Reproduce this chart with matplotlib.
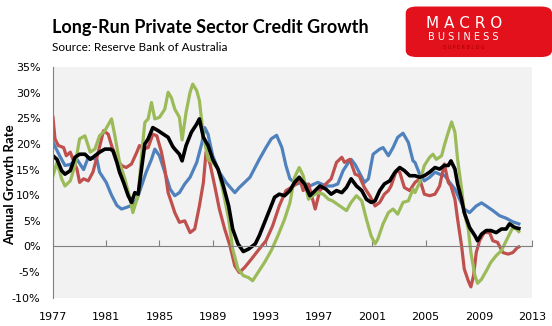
import matplotlib.pyplot as plt
from matplotlib.patches import FancyBboxPatch
from matplotlib.ticker import FuncFormatter, MultipleLocator

# --- data (year, % annual growth) ---
blue_x = [1977.0, 1977.5, 1977.9, 1978.3, 1978.8, 1979.3, 1979.65, 1980.3, 1980.5, 1981.0,
          1981.4, 1981.8, 1982.15, 1982.5, 1982.9, 1983.3, 1983.65, 1984.0, 1984.4, 1984.65,
          1985.0, 1985.4, 1985.8, 1986.15, 1986.5, 1986.9, 1987.3, 1987.8, 1988.2, 1988.4,
          1988.65, 1989.0, 1989.5, 1990.0, 1990.66, 1991.0, 1991.8, 1992.5, 1993.0, 1993.4,
          1993.8, 1994.2, 1994.5, 1994.8, 1995.3, 1995.8, 1996.3, 1996.9, 1997.5, 1998.0,
          1998.4, 1998.8, 1999.2, 1999.4, 1999.7, 2000.0, 2000.4, 2000.7, 2001.05, 2001.55,
          2001.8, 2002.2, 2002.55, 2002.9, 2003.3, 2003.7, 2004.05, 2004.2, 2004.55, 2004.9,
          2005.3, 2005.7, 2006.05, 2006.45, 2006.8, 2007.2, 2007.55, 2007.9, 2008.3, 2008.8,
          2009.2, 2009.55, 2010.05, 2010.55, 2011.05, 2011.55, 2012.0]
blue_y = [20.3, 17.7, 15.8, 16.0, 17.0, 15.0, 17.4, 17.0, 14.5, 12.5,
          10.0, 8.0, 7.3, 7.6, 8.0, 9.2, 11.8, 14.5, 17.0, 19.0,
          17.7, 14.5, 11.2, 9.9, 10.5, 12.2, 13.5, 16.4, 20.3, 23.2,
          21.9, 17.7, 14.5, 12.5, 10.5, 11.5, 13.5, 17.0, 19.3, 21.0,
          21.7, 19.3, 15.8, 13.2, 12.2, 12.5, 11.8, 12.5, 11.8, 11.8,
          12.2, 14.8, 16.4, 17.0, 16.0, 14.5, 12.5, 13.2, 18.0, 19.0,
          19.3, 17.7, 19.3, 21.3, 22.1, 20.3, 16.7, 16.4, 14.1, 12.8,
          13.5, 14.5, 14.1, 13.8, 12.5, 11.2, 9.2, 7.3, 6.6, 7.9,
          8.5, 7.9, 7.0, 6.0, 5.5, 4.8, 4.4]

red_x = [1977.0, 1977.15, 1977.4, 1977.8, 1978.0, 1978.3, 1978.5, 1978.8, 1979.0, 1979.3,
         1979.65, 1980.0, 1980.4, 1980.8, 1981.15, 1981.4, 1981.8, 1982.15, 1982.5, 1982.9,
         1983.3, 1983.5, 1983.8, 1984.15, 1984.5, 1984.8, 1985.15, 1985.4, 1985.65, 1985.9,
         1986.15, 1986.5, 1986.9, 1987.3, 1987.65, 1988.0, 1988.3, 1988.5, 1988.8, 1989.2,
         1989.5, 1989.9, 1990.3, 1990.66, 1991.0, 1991.4, 1991.9, 1992.5, 1993.0, 1993.5,
         1994.0, 1994.5, 1994.9, 1995.3, 1995.5, 1995.8, 1996.2, 1996.7, 1997.05, 1997.5,
         1997.9, 1998.3, 1998.7, 1998.9, 1999.3, 1999.7, 2000.0, 2000.4, 2000.8, 2001.2,
         2001.55, 2001.9, 2002.2, 2002.4, 2002.8, 2003.05, 2003.4, 2003.8, 2004.2, 2004.55,
         2004.9, 2005.3, 2005.7, 2006.05, 2006.4, 2006.7, 2006.9, 2007.2, 2007.4, 2007.7,
         2007.9, 2008.2, 2008.4, 2008.6, 2008.8, 2009.05, 2009.4, 2009.8, 2010.05, 2010.4,
         2010.8, 2011.2, 2011.55, 2011.9, 2012.0]
red_y = [25.2, 21.0, 19.7, 19.3, 17.7, 18.4, 17.0, 15.1, 12.5, 13.2,
         12.8, 14.5, 18.4, 22.6, 21.9, 19.7, 17.0, 15.8, 15.4, 16.1,
         18.4, 19.7, 19.0, 19.3, 21.9, 21.6, 18.4, 15.1, 10.5, 8.6,
         6.6, 4.7, 5.0, 2.7, 3.4, 7.9, 12.5, 18.4, 16.1, 11.2,
         7.3, 3.4, 0.1, -3.8, -5.1, -4.1, -2.5, -0.5, 1.1, 4.0,
         7.9, 10.9, 11.5, 12.2, 13.5, 10.9, 12.2, 7.3, 10.9, 12.2,
         13.2, 16.4, 17.4, 16.4, 17.0, 14.1, 13.8, 11.5, 9.9, 7.9,
         8.6, 10.2, 10.9, 11.8, 14.8, 14.5, 11.5, 10.9, 12.5, 13.2,
         10.2, 9.9, 10.2, 11.8, 16.1, 12.5, 11.8, 9.2, 5.3, 0.1,
         -4.4, -6.7, -7.9, -5.7, -1.2, 1.1, 2.7, 2.7, 1.1, 0.8,
         -1.2, -1.5, -1.2, -0.2, -0.1]

green_x = [1977.0, 1977.3, 1977.65, 1977.9, 1978.3, 1978.65, 1979.0, 1979.4, 1979.8, 1980.15,
           1980.5, 1980.9, 1981.4, 1981.65, 1982.0, 1982.4, 1982.8, 1983.0, 1983.15, 1983.4,
           1983.65, 1983.9, 1984.15, 1984.4, 1984.65, 1985.0, 1985.4, 1985.65, 1985.9, 1986.15,
           1986.5, 1986.7, 1987.0, 1987.3, 1987.5, 1987.8, 1988.0, 1988.3, 1988.65, 1989.0,
           1989.4, 1989.8, 1990.2, 1990.5, 1990.9, 1991.3, 1991.7, 1992.0, 1992.4, 1992.9,
           1993.4, 1993.9, 1994.4, 1994.8, 1995.15, 1995.5, 1995.8, 1996.2, 1996.5, 1996.9,
           1997.3, 1997.7, 1998.0, 1998.55, 1999.05, 1999.4, 1999.8, 2000.2, 2000.55, 2000.9,
           2001.2, 2001.4, 2001.8, 2002.2, 2002.55, 2002.9, 2003.3, 2003.7, 2004.05, 2004.2,
           2004.55, 2004.9, 2005.3, 2005.55, 2005.8, 2006.2, 2006.4, 2006.7, 2006.95, 2007.2,
           2007.4, 2007.7, 2007.9, 2008.2, 2008.4, 2008.7, 2008.9, 2009.2, 2009.55, 2009.9,
           2010.3, 2010.7, 2011.05, 2011.3, 2011.55, 2011.8, 2012.0]
green_y = [13.8, 16.4, 13.2, 11.8, 12.8, 15.8, 21.0, 21.6, 18.4, 19.0,
           21.6, 22.6, 24.9, 21.6, 16.4, 13.2, 9.2, 6.6, 7.9, 9.9,
           17.7, 24.2, 24.9, 28.1, 24.9, 25.2, 26.8, 30.1, 29.0, 26.8,
           25.2, 20.8, 26.2, 30.1, 31.7, 30.4, 28.5, 21.6, 17.0, 16.4,
           15.1, 10.5, 5.3, -0.5, -4.4, -5.7, -6.1, -6.7, -5.1, -3.1,
           -0.8, 2.1, 5.3, 8.5, 13.5, 15.4, 13.8, 9.2, 9.9, 10.5,
           10.2, 9.2, 8.9, 7.9, 7.0, 8.6, 9.9, 8.9, 5.3, 2.1,
           0.5, 1.4, 4.4, 6.6, 7.3, 6.3, 8.6, 8.9, 11.2, 10.5,
           12.5, 15.8, 17.4, 18.0, 17.0, 17.7, 19.7, 22.3, 24.3, 22.3,
           17.0, 11.2, 6.6, 3.4, -1.2, -5.7, -7.2, -6.4, -4.8, -3.1,
           -1.8, -0.8, 1.1, 2.4, 3.7, 3.4, 2.9]

black_x = [1977.0, 1977.3, 1977.65, 1977.9, 1978.3, 1978.65, 1979.0, 1979.4, 1979.8, 1980.15,
           1980.5, 1980.9, 1981.3, 1981.5, 1981.8, 1982.0, 1982.3, 1982.65, 1982.9, 1983.15,
           1983.4, 1983.65, 1983.9, 1984.15, 1984.5, 1984.9, 1985.3, 1985.65, 1986.0, 1986.15,
           1986.5, 1986.7, 1987.0, 1987.4, 1987.8, 1988.0, 1988.3, 1988.65, 1989.0, 1989.4,
           1989.8, 1990.2, 1990.5, 1990.9, 1991.3, 1991.7, 1992.2, 1992.5, 1992.9, 1993.3,
           1993.65, 1994.0, 1994.4, 1994.8, 1995.15, 1995.5, 1995.9, 1996.3, 1996.7, 1997.05,
           1997.5, 1997.9, 1998.3, 1998.7, 1999.05, 1999.4, 1999.8, 2000.2, 2000.55, 2000.9,
           2001.2, 2001.55, 2001.9, 2002.3, 2002.7, 2003.05, 2003.4, 2003.8, 2004.2, 2004.55,
           2004.9, 2005.3, 2005.7, 2006.05, 2006.4, 2006.7, 2006.9, 2007.2, 2007.4, 2007.7,
           2007.9, 2008.3, 2008.7, 2008.9, 2009.2, 2009.55, 2009.9, 2010.3, 2010.7, 2011.05,
           2011.3, 2011.7, 2012.0]
black_y = [17.7, 17.0, 14.8, 14.1, 14.8, 17.4, 18.0, 18.0, 17.0, 17.7,
           18.4, 19.0, 19.0, 18.7, 16.4, 14.5, 12.5, 9.9, 8.6, 10.5,
           10.2, 15.1, 20.0, 21.0, 23.2, 22.6, 21.9, 21.3, 19.5, 19.0,
           18.0, 16.7, 19.7, 22.3, 23.9, 24.9, 21.3, 19.7, 17.0, 15.1,
           11.8, 7.9, 3.4, 0.5, -1.0, -0.5, 0.5, 2.1, 4.7, 7.3,
           9.6, 10.2, 9.9, 10.9, 12.5, 13.5, 12.2, 9.9, 10.9, 11.8,
           11.2, 10.2, 10.9, 10.5, 11.5, 13.2, 11.8, 10.9, 9.2, 8.6,
           8.9, 10.9, 12.2, 12.8, 14.5, 15.4, 14.8, 13.8, 13.8, 13.5,
           13.8, 14.5, 15.4, 15.1, 15.8, 15.8, 16.7, 15.1, 12.2, 9.2,
           6.6, 3.7, 2.1, 1.1, 2.4, 3.1, 3.1, 2.7, 3.4, 3.4,
           4.4, 3.7, 3.5]

year_ticks = list(range(1977, 2014, 4))

fig = plt.figure(figsize=(5.52, 3.26), dpi=100)
ax = fig.add_axes([0.096, 0.087, 0.868, 0.707])
ax.set_facecolor('#f2f2f2')

ax.plot(blue_x, blue_y, color='#4f81bd', lw=2.3)
ax.plot(red_x, red_y, color='#c0504d', lw=2.3)
ax.plot(green_x, green_y, color='#9bbb59', lw=2.3)
ax.plot(black_x, black_y, color='black', lw=2.6)

ax.set_xlim(1977, 2013)
ax.set_ylim(-10, 35)
ax.yaxis.set_major_locator(MultipleLocator(5))
ax.yaxis.set_major_formatter(FuncFormatter(lambda v, p: '%d%%' % v))
ax.tick_params(axis='y', length=0, labelsize=8, colors='black', pad=9)

# zero line with ticks pointing up
ax.spines['bottom'].set_position(('data', 0))
ax.spines['bottom'].set_color('#808080')
ax.set_xticks(year_ticks)
ax.tick_params(axis='x', direction='in', length=4, color='#808080', labelbottom=False)
for s in ['top', 'right']:
    ax.spines[s].set_visible(False)
ax.spines['left'].set_color('#808080')

sec = ax.secondary_xaxis(0.0)
sec.set_xticks(year_ticks)
sec.spines['bottom'].set_visible(False)
sec.tick_params(length=0, labelsize=8, pad=10)

ax.set_ylabel('Annual Growth Rate', fontsize=9.5, fontweight='bold', family='Lato')
ax.yaxis.set_label_coords(-0.077, 0.49)

fig.text(0.094, 0.915, 'Long-Run Private Sector Credit Growth', fontsize=13,
         fontweight='bold', family='Lato', va='center', ha='left')
fig.text(0.094, 0.853, 'Source: Reserve Bank of Australia', fontsize=8.5,
         family='Lato', va='center', ha='left')

# logo
logo = FancyBboxPatch((0.735, 0.825), 0.265, 0.155, boxstyle='round,pad=0,rounding_size=0.02',
                      transform=fig.transFigure, facecolor='#e3111b', edgecolor='none')
fig.patches.append(logo)
fig.text(0.84, 0.928, 'M A C R O', fontsize=11, color='white', ha='center', va='center')
fig.text(0.84, 0.888, 'B U S I N E S S', fontsize=7, color='white', ha='center', va='center')
fig.text(0.84, 0.855, 'S U P E R B L O G', fontsize=3.5, color='#a00000', ha='center', va='center')

fig.savefig('out.png', dpi=100)
